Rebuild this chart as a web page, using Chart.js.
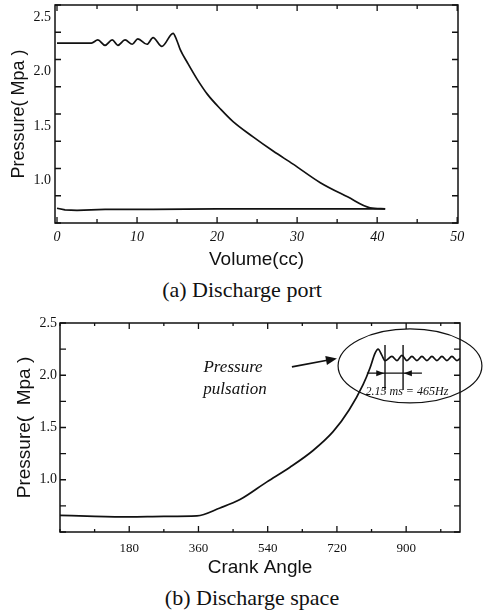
<!DOCTYPE html>
<html lang="en">
<head>
<meta charset="utf-8">
<title>Discharge pressure</title>
<style>
  body { margin: 0; background: #fff; width: 483px; height: 616px; position: relative; overflow: hidden; }
  canvas { position: absolute; left: 0; }
  #chartA { top: 0; }
  #chartB { top: 300px; }
  .caption { position: absolute; font-family: 'Liberation Serif', serif; font-size: 22px; line-height: 26px;
             color: #111; white-space: nowrap; transform: translateX(-50%); }
</style>
</head>
<body>
<canvas id="chartA" width="483" height="272"></canvas>
<div class="caption" style="left:242px; top:277px">(a) Discharge port</div>
<canvas id="chartB" width="483" height="280"></canvas>
<div class="caption" style="left:252px; top:585px">(b) Discharge space</div>

<script src="https://cdn.jsdelivr.net/npm/chart.js@4"></script>
<script>
  // (a) discharge port : pressure vs volume
  var volA  = [0, 4.3, 5.1, 6.0, 6.9, 7.6, 8.5, 9.4, 10.1, 11.25, 12.0, 13.1, 14.5, 15.0, 15.4, 16.3, 17.5, 18.8,
               20.5, 22.0, 24.5, 27.0, 29.5, 32.9, 36.3, 39.1, 41.0];
  var presA = [2.15, 2.15, 2.18, 2.13, 2.18, 2.13, 2.18, 2.14, 2.19, 2.14, 2.20, 2.12, 2.24, 2.17, 2.09, 1.97, 1.82, 1.68,
               1.54, 1.43, 1.29, 1.16, 1.04, 0.87, 0.74, 0.64, 0.63];
  // suction side, going back from 41 cc to 0
  var volR  = [41.0, 35, 28, 20, 12, 6, 2.5, 1.0, 0];
  var presR = [0.63, 0.63, 0.63, 0.63, 0.625, 0.625, 0.615, 0.62, 0.635];

  var xTicksA  = [0, 5, 10, 15, 20, 25, 30, 35, 40, 45, 50];
  var xLabelsA = [0, 10, 20, 30, 40, 50];
  var yTicksA  = [0.5, 0.75, 1.0, 1.25, 1.5, 1.75, 2.0, 2.25, 2.5];
  var yLabelsA = [1.0, 1.5, 2.0, 2.5];

  // (b) discharge space : pressure vs crank angle
  var crank = [0, 90, 180, 270, 356, 416, 468, 538, 598, 658, 710, 752, 788, 806, 819, 827, 837, 845,
               863, 876, 889, 902, 915, 928, 941, 954, 967, 980, 993, 1006, 1019, 1032, 1040];
  var presB = [0.66, 0.65, 0.645, 0.65, 0.655, 0.73, 0.81, 0.98, 1.12, 1.28, 1.46, 1.67, 1.91, 2.07, 2.21, 2.25, 2.19, 2.14,
               2.18, 2.14, 2.19, 2.14, 2.18, 2.14, 2.18, 2.14, 2.18, 2.14, 2.18, 2.14, 2.18, 2.14, 2.16];

  var xTicksB  = [0, 90, 180, 270, 360, 450, 540, 630, 720, 810, 900, 990];
  var xLabelsB = [180, 360, 540, 720, 900];
  var yTicksB  = [0.5, 0.75, 1.0, 1.25, 1.5, 1.75, 2.0, 2.25, 2.5];
  var yLabelsB = [1.0, 1.5, 2.0, 2.5];

  var ink = '#111';
  Chart.defaults.color = ink;
  Chart.defaults.animation = false;

  function pts(xs, ys) {
    return xs.map(function (v, i) { return { x: v, y: ys[i] }; });
  }

  function setTicks(list) {
    return function (scale) { scale.ticks = list.map(function (v) { return { value: v }; }); };
  }

  function fixSize(prop, size) {
    return function (scale) {
      scale[prop] = size;
      scale.paddingTop = 0; scale.paddingBottom = 0;
      scale.paddingLeft = 0; scale.paddingRight = 0;
    };
  }

  // box round the plot with inward ticks on all four sides
  function frame(xMajor, longTick, shortTick) {
    return {
      id: 'frame',
      afterDraw: function (chart) {
        var ctx = chart.ctx, a = chart.chartArea, sx = chart.scales.x, sy = chart.scales.y;
        ctx.save();
        ctx.strokeStyle = ink;
        ctx.lineWidth = 1.5;
        ctx.strokeRect(a.left, a.top, a.right - a.left, a.bottom - a.top);
        ctx.lineWidth = 1.3;
        ctx.beginPath();
        sx.ticks.forEach(function (t) {
          var p = sx.getPixelForValue(t.value);
          var len = xMajor.indexOf(t.value) >= 0 ? longTick : shortTick;
          ctx.moveTo(p, a.bottom); ctx.lineTo(p, a.bottom - len);
          ctx.moveTo(p, a.top); ctx.lineTo(p, a.top + len);
        });
        sy.ticks.forEach(function (t) {
          var p = sy.getPixelForValue(t.value);
          ctx.moveTo(a.left, p); ctx.lineTo(a.left + longTick, p);
          ctx.moveTo(a.right, p); ctx.lineTo(a.right - longTick, p);
        });
        ctx.stroke();
        ctx.restore();
      }
    };
  }

  function arrowHead(ctx, x0, y0, x1, y1, len, half) {
    var ang = Math.atan2(y1 - y0, x1 - x0);
    ctx.beginPath();
    ctx.moveTo(x1, y1);
    ctx.lineTo(x1 - len * Math.cos(ang) + half * Math.sin(ang), y1 - len * Math.sin(ang) - half * Math.cos(ang));
    ctx.lineTo(x1 - len * Math.cos(ang) - half * Math.sin(ang), y1 - len * Math.sin(ang) + half * Math.cos(ang));
    ctx.closePath();
    ctx.fill();
  }

  // notes in panel (b), placed in data units
  var pulseNote = {
    id: 'pulseNote',
    afterDraw: function (chart) {
      var ctx = chart.ctx, sx = chart.scales.x, sy = chart.scales.y;
      function X(v) { return sx.getPixelForValue(v); }
      function Y(v) { return sy.getPixelForValue(v); }
      ctx.save();
      ctx.strokeStyle = ink; ctx.fillStyle = ink;

      // ellipse
      ctx.lineWidth = 1.2;
      ctx.beginPath();
      ctx.ellipse(X(910), Y(2.09), X(910 + 187) - X(910), Y(2.09 - 0.354) - Y(2.09), 0, 0, Math.PI * 2);
      ctx.stroke();

      // pointer arrow
      ctx.lineWidth = 1.6;
      ctx.beginPath();
      ctx.moveTo(X(603), Y(2.08)); ctx.lineTo(X(712), Y(2.155));
      ctx.stroke();
      arrowHead(ctx, X(603), Y(2.08), X(720), Y(2.16), 11, 4.5);

      // period markers
      ctx.lineWidth = 1.4;
      ctx.beginPath();
      ctx.moveTo(X(845), Y(2.29)); ctx.lineTo(X(845), Y(1.86));
      ctx.moveTo(X(892), Y(2.29)); ctx.lineTo(X(892), Y(1.86));
      ctx.moveTo(X(798), Y(2.02)); ctx.lineTo(X(941), Y(2.02));
      ctx.stroke();
      arrowHead(ctx, X(798), Y(2.02), X(843), Y(2.02), 8, 3);
      arrowHead(ctx, X(941), Y(2.02), X(894), Y(2.02), 8, 3);

      ctx.textAlign = 'center';
      ctx.textBaseline = 'middle';
      ctx.font = 'italic 17px "Liberation Serif"';
      ctx.fillText('Pressure', X(450), Y(2.07));
      ctx.fillText('pulsation', X(455), Y(1.86));
      ctx.font = 'italic 12px "Liberation Serif"';
      ctx.fillText('2.15 ms = 465Hz', X(902), Y(1.84));
      ctx.restore();
    }
  };

  var lineStyle = { borderColor: ink, borderWidth: 1.7, pointRadius: 0, fill: false };

  new Chart(document.getElementById('chartA'), {
    type: 'line',
    data: {
      datasets: [
        Object.assign({ data: pts(volA, presA), cubicInterpolationMode: 'monotone' }, lineStyle),
        Object.assign({ data: pts(volR, presR), tension: 0 }, lineStyle)
      ]
    },
    options: {
      responsive: false,
      layout: { padding: { top: 5, right: 25, left: 0, bottom: 0 } },
      plugins: { legend: { display: false }, tooltip: { enabled: false } },
      scales: {
        x: {
          type: 'linear', min: -0.25, max: 50.1,
          afterBuildTicks: setTicks(xTicksA),
          afterFit: fixSize('height', 49),
          grid: { display: false, drawTicks: false },
          border: { display: false },
          ticks: {
            autoSkip: false, maxRotation: 0, padding: 6,
            font: { family: 'Liberation Serif', size: 14, style: 'italic' },
            callback: function (v) { return xLabelsA.indexOf(v) >= 0 ? String(v) : ''; }
          },
          title: { display: true, text: 'Volume(cc)', padding: { top: 0, bottom: 1 },
                   font: { family: 'Liberation Sans', size: 19, lineHeight: 1.2 } }
        },
        y: {
          min: 0.5, max: 2.5,
          afterBuildTicks: setTicks(yTicksA),
          afterFit: fixSize('width', 55),
          grid: { display: false, drawTicks: false },
          border: { display: false },
          ticks: {
            autoSkip: false, padding: 4, labelOffset: 12,
            font: { family: 'Liberation Serif', size: 14 },
            callback: function (v) { return yLabelsA.indexOf(v) >= 0 ? v.toFixed(1) : ''; }
          },
          title: { display: true, text: 'Pressure( Mpa )', padding: { top: 8, bottom: 0 },
                   font: { family: 'Liberation Sans', size: 18, lineHeight: 1.2 } }
        }
      }
    },
    plugins: [frame(xLabelsA, 6, 4)]
  });

  new Chart(document.getElementById('chartB'), {
    type: 'line',
    data: {
      datasets: [
        Object.assign({ data: pts(crank, presB), cubicInterpolationMode: 'monotone' }, lineStyle)
      ]
    },
    options: {
      responsive: false,
      layout: { padding: { top: 23, right: 23, left: 0, bottom: 0 } },
      plugins: { legend: { display: false }, tooltip: { enabled: false } },
      scales: {
        x: {
          type: 'linear', min: 0, max: 1040,
          afterBuildTicks: setTicks(xTicksB),
          afterFit: fixSize('height', 48),
          grid: { display: false, drawTicks: false },
          border: { display: false },
          ticks: {
            autoSkip: false, maxRotation: 0, padding: 9,
            font: { family: 'Liberation Serif', size: 13 },
            callback: function (v) { return xLabelsB.indexOf(v) >= 0 ? String(v) : ''; }
          },
          title: { display: true, text: 'Crank Angle', padding: { top: 0, bottom: 1 },
                   font: { family: 'Liberation Sans', size: 19, lineHeight: 1.2 } }
        },
        y: {
          min: 0.5, max: 2.5,
          afterBuildTicks: setTicks(yTicksB),
          afterFit: fixSize('width', 60),
          grid: { display: false, drawTicks: false },
          border: { display: false },
          ticks: {
            autoSkip: false, padding: 3,
            font: { family: 'Liberation Serif', size: 14 },
            callback: function (v) { return yLabelsB.indexOf(v) >= 0 ? v.toFixed(1) : ''; }
          },
          title: { display: true, text: 'Pressure(  Mpa )', padding: { top: 13, bottom: 0 },
                   font: { family: 'Liberation Sans', size: 19, lineHeight: 1.2 } }
        }
      }
    },
    plugins: [frame(xLabelsB, 6, 3), pulseNote]
  });
</script>
</body>
</html>
